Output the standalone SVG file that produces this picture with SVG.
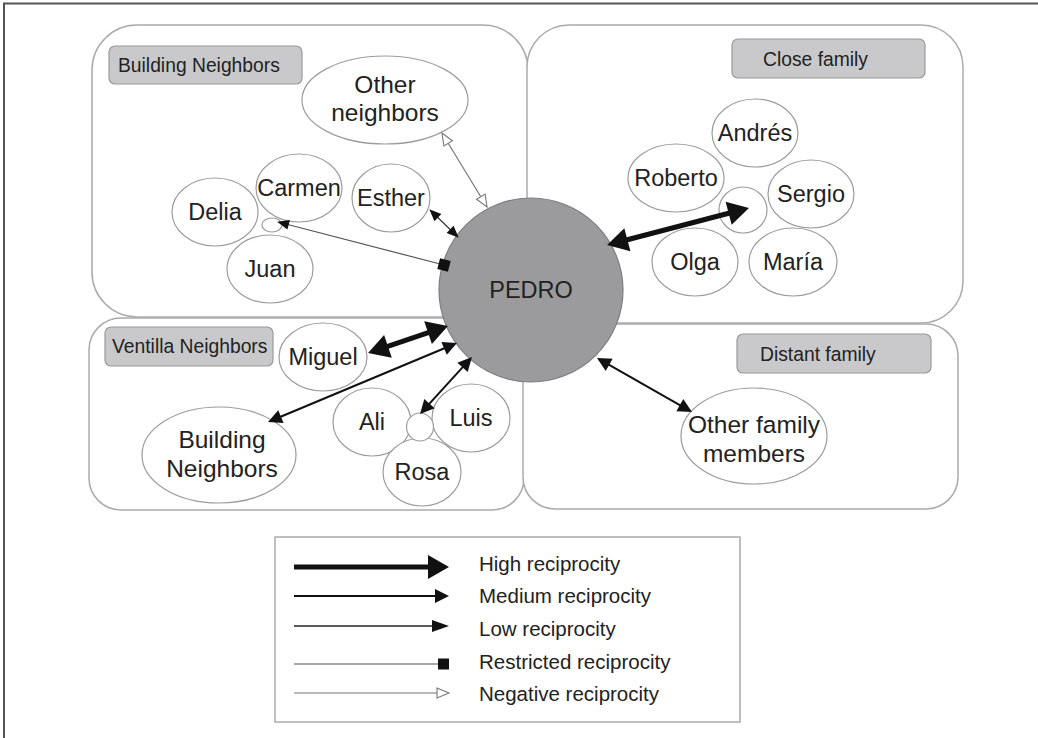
<svg xmlns="http://www.w3.org/2000/svg" width="1038" height="738" viewBox="0 0 1038 738">
<style>
.region{fill:#fff;stroke:#aaaaaa;stroke-width:1.5}
.tag{fill:#c9c9cb;stroke:#9a9a9a;stroke-width:1.2}
.tagt{font-family:"Liberation Sans",Arial,sans-serif;font-size:19.3px;fill:#222}
.node{fill:#fff;stroke:#9c9c9c;stroke-width:1.2}
.nt{font-family:"Liberation Sans",Arial,sans-serif;font-size:23.5px;fill:#222;text-anchor:middle}
.nt2{font-family:"Liberation Sans",Arial,sans-serif;font-size:24.5px;fill:#222;text-anchor:middle}
.hi{stroke:#111;stroke-width:5;fill:none}
.med{stroke:#111;stroke-width:2;fill:none}
.low{stroke:#222;stroke-width:1.3;fill:none}
.res{stroke:#555;stroke-width:1.2;fill:none}
.neg{stroke:#777;stroke-width:1.2;fill:none}
.lt{font-family:"Liberation Sans",Arial,sans-serif;font-size:20.5px;fill:#222}
</style>
<defs>
<marker id="mHi" markerUnits="userSpaceOnUse" markerWidth="22" markerHeight="26" refX="1" refY="12" orient="auto-start-reverse" overflow="visible"><path d="M0,0 L21,12 L0,24 z" fill="#111"/></marker>
<marker id="mMed" markerUnits="userSpaceOnUse" markerWidth="16" markerHeight="16" refX="1" refY="7" orient="auto-start-reverse" overflow="visible"><path d="M0,0 L14,7 L0,14 z" fill="#111"/></marker>
<marker id="mLow" markerUnits="userSpaceOnUse" markerWidth="16" markerHeight="12" refX="1" refY="5" orient="auto-start-reverse" overflow="visible"><path d="M0,0 L12,5 L0,10 z" fill="#111"/></marker>
<marker id="mLowL" markerUnits="userSpaceOnUse" markerWidth="18" markerHeight="14" refX="1" refY="6" orient="auto-start-reverse" overflow="visible"><path d="M0,0 L17,6 L0,12 z" fill="#111"/></marker>
<marker id="mSq" markerUnits="userSpaceOnUse" markerWidth="12" markerHeight="12" refX="5.5" refY="5.5" orient="auto" overflow="visible"><rect x="0" y="0" width="11" height="11" fill="#111"/></marker>
<marker id="mSqL" markerUnits="userSpaceOnUse" markerWidth="12" markerHeight="12" refX="0" refY="5.5" orient="auto" overflow="visible"><rect x="0" y="0" width="11" height="11" fill="#111"/></marker>
<marker id="mNeg" markerUnits="userSpaceOnUse" markerWidth="14" markerHeight="12" refX="0" refY="5" orient="auto-start-reverse" overflow="visible"><path d="M0,0 L12,5 L0,10 z" fill="#fff" stroke="#777" stroke-width="1.1"/></marker>
</defs>
<rect width="1038" height="738" fill="#fff"/>
<path d="M4,738 V3.5 H1038" fill="none" stroke="#555" stroke-width="2"/>

<g id="regions">
<rect id="region-building" class="region" x="92" y="25" width="436" height="292" rx="45"/>
<rect id="region-close" class="region" x="527" y="25" width="436" height="298" rx="42"/>
<rect id="region-ventilla" class="region" x="89" y="318" width="435" height="192" rx="32"/>
<rect id="region-distant" class="region" x="523" y="324" width="435" height="185" rx="32"/>
</g>

<g id="labels">
<g id="label-building"><rect class="tag" x="109" y="46" width="193" height="38" rx="6"/><text class="tagt" x="118" y="72">Building Neighbors</text></g>
<g id="label-close"><rect class="tag" x="732" y="39" width="193" height="39" rx="6"/><text class="tagt" x="763" y="66">Close family</text></g>
<g id="label-ventilla"><rect class="tag" x="105" y="327" width="168" height="39" rx="6"/><text class="tagt" x="112" y="353">Ventilla Neighbors</text></g>
<g id="label-distant"><rect class="tag" x="737" y="334" width="194" height="39" rx="6"/><text class="tagt" x="760" y="361">Distant family</text></g>
</g>

<g id="nodes">
<g id="pedro"><circle cx="531" cy="290" r="92" fill="#9b9b9d" stroke="#7d7d7f" stroke-width="1.2"/><text class="nt" x="531" y="298" fill="#2a2a2a">PEDRO</text></g>
<g id="other-neighbors"><ellipse class="node" cx="385" cy="100" rx="83" ry="44"/><text class="nt2" x="385" y="93">Other</text><text class="nt2" x="385" y="121">neighbors</text></g>
<g id="carmen"><ellipse class="node" cx="299" cy="188" rx="43" ry="34"/><text class="nt" x="299" y="196">Carmen</text></g>
<g id="esther"><ellipse class="node" cx="391" cy="198" rx="39" ry="34"/><text class="nt" x="391" y="206">Esther</text></g>
<g id="delia"><ellipse class="node" cx="215" cy="212" rx="43" ry="34"/><text class="nt" x="215" y="220">Delia</text></g>
<g id="juan"><ellipse class="node" cx="270" cy="269" rx="43" ry="34"/><text class="nt" x="270" y="277">Juan</text></g>
<g id="building-group"><ellipse class="node" cx="272" cy="225" rx="10" ry="7"/></g>
<g id="andres"><ellipse class="node" cx="755" cy="133" rx="43" ry="34"/><text class="nt" x="755" y="141">Andrés</text></g>
<g id="roberto"><ellipse class="node" cx="676" cy="178" rx="48" ry="34"/><text class="nt" x="676" y="186">Roberto</text></g>
<g id="sergio"><ellipse class="node" cx="811" cy="194" rx="43" ry="34"/><text class="nt" x="811" y="202">Sergio</text></g>
<g id="family-group"><ellipse class="node" cx="743" cy="210" rx="24" ry="23"/></g>
<g id="olga"><ellipse class="node" cx="695" cy="262" rx="43" ry="34"/><text class="nt" x="695" y="270">Olga</text></g>
<g id="maria"><ellipse class="node" cx="793" cy="262" rx="44" ry="34"/><text class="nt" x="793" y="270">María</text></g>
<g id="miguel"><ellipse class="node" cx="323" cy="357" rx="44" ry="34"/><text class="nt" x="323" y="365">Miguel</text></g>
<g id="building-neighbors"><ellipse class="node" cx="219" cy="455" rx="77" ry="48"/><text class="nt2" x="222" y="448">Building</text><text class="nt2" x="222" y="477">Neighbors</text></g>
<g id="ali"><ellipse class="node" cx="372" cy="422" rx="39" ry="34"/><text class="nt" x="372" y="430">Ali</text></g>
<g id="luis"><ellipse class="node" cx="471" cy="418" rx="39" ry="34"/><text class="nt" x="471" y="426">Luis</text></g>
<g id="rosa"><ellipse class="node" cx="422" cy="472" rx="39" ry="34"/><text class="nt" x="422" y="480">Rosa</text></g>
<g id="ventilla-group"><ellipse class="node" cx="420" cy="427" rx="13.5" ry="14"/></g>
<g id="other-family"><ellipse class="node" cx="754" cy="436" rx="73" ry="48"/><text class="nt2" x="754" y="433">Other family</text><text class="nt2" x="754" y="462">members</text></g>
</g>

<g id="connectors">
<line class="neg" x1="448.2" y1="143.3" x2="480.8" y2="196.7" marker-start="url(#mNeg)" marker-end="url(#mNeg)"/>
<line class="low" x1="437.2" y1="216.9" x2="450.8" y2="230.1" marker-start="url(#mLow)" marker-end="url(#mLow)"/>
<line class="res" x1="287.7" y1="224.5" x2="444" y2="265" marker-start="url(#mLow)" marker-end="url(#mSq)"/>
<line class="hi" x1="626.4" y1="240" x2="729.6" y2="213" marker-start="url(#mHi)" marker-end="url(#mHi)"/>
<line class="hi" x1="387" y1="346.6" x2="429" y2="332.4" marker-start="url(#mHi)" marker-end="url(#mHi)"/>
<line class="med" x1="280" y1="417" x2="445" y2="348" marker-start="url(#mMed)" marker-end="url(#mMed)"/>
<line class="med" x1="428.8" y1="404.4" x2="463.2" y2="366.6" marker-start="url(#mMed)" marker-end="url(#mMed)"/>
<line class="med" x1="608.3" y1="364.4" x2="680.7" y2="405.6" marker-start="url(#mMed)" marker-end="url(#mMed)"/>
</g>

<g id="legend">
<rect x="275" y="537" width="465" height="185" fill="#fff" stroke="#aaaaaa" stroke-width="1.5"/>
<line class="hi" x1="294" y1="567" x2="429" y2="567" marker-end="url(#mHi)"/>
<line class="med" x1="294" y1="596" x2="436" y2="596" marker-end="url(#mMed)"/>
<line class="low" x1="294" y1="626" x2="433" y2="626" marker-end="url(#mLowL)"/>
<line class="res" x1="294" y1="664" x2="438" y2="664" marker-end="url(#mSqL)"/>
<line class="neg" x1="294" y1="693" x2="437" y2="693" marker-end="url(#mNeg)"/>
<text class="lt" x="479" y="571">High reciprocity</text>
<text class="lt" x="479" y="603">Medium reciprocity</text>
<text class="lt" x="479" y="636">Low reciprocity</text>
<text class="lt" x="479" y="669">Restricted reciprocity</text>
<text class="lt" x="479" y="701">Negative reciprocity</text>
</g>
</svg>
